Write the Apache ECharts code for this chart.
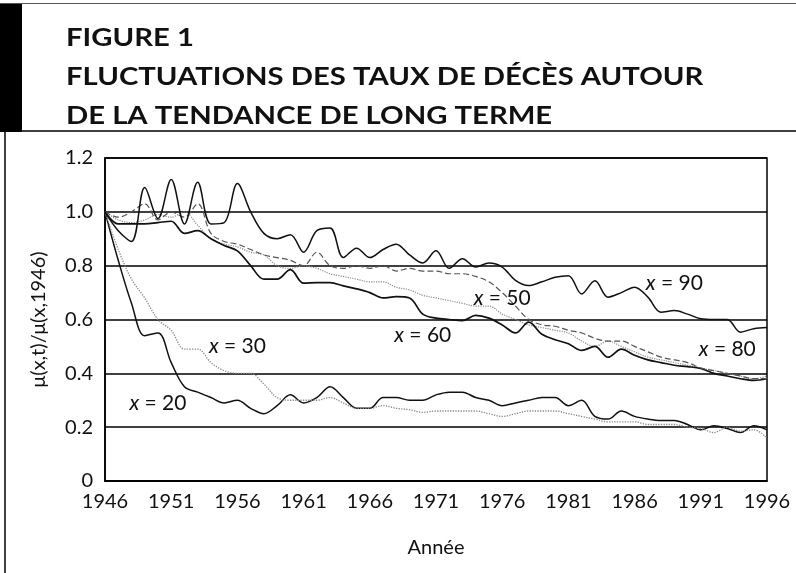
<!DOCTYPE html>
<html>
<head>
<meta charset="utf-8">
<title>Figure 1 - fluctuations des taux de décès</title>
<script src="https://cdn.jsdelivr.net/npm/echarts@6/dist/echarts.min.js"></script>
<style>
  * { margin: 0; padding: 0; }
  body { background: #fff; }
  #main { width: 796px; height: 573px; }
</style>
</head>
<body>
<div id="main"></div>
<script>
// années (axe des x)
var years = ['1946','1947','1948','1949','1950','1951','1952','1953','1954','1955',
  '1956','1957','1958','1959','1960','1961','1962','1963','1964','1965',
  '1966','1967','1968','1969','1970','1971','1972','1973','1974','1975',
  '1976','1977','1978','1979','1980','1981','1982','1983','1984','1985',
  '1986','1987','1988','1989','1990','1991','1992','1993','1994','1995','1996'];

// mu(x,t)/mu(x,1946)
var age20 = [1.00,0.82,0.66,0.54,0.55,0.44,0.35,0.33,0.31,0.29,
  0.30,0.27,0.25,0.28,0.32,0.29,0.31,0.35,0.31,0.27,
  0.27,0.31,0.31,0.30,0.30,0.32,0.33,0.33,0.31,0.30,
  0.28,0.29,0.30,0.31,0.31,0.28,0.30,0.24,0.23,0.26,
  0.24,0.23,0.225,0.225,0.21,0.19,0.205,0.195,0.18,0.205,0.19];
var age30 = [1.00,0.86,0.75,0.68,0.60,0.56,0.49,0.49,0.44,0.41,
  0.40,0.40,0.36,0.31,0.30,0.30,0.30,0.31,0.29,0.27,
  0.27,0.28,0.27,0.265,0.255,0.26,0.26,0.26,0.26,0.25,
  0.24,0.25,0.26,0.26,0.26,0.25,0.24,0.23,0.22,0.22,
  0.22,0.21,0.21,0.21,0.20,0.195,0.18,0.20,0.185,0.19,0.16];
var age50 = [1.00,0.97,0.96,0.97,0.99,0.98,1.00,0.95,0.90,0.88,
  0.87,0.85,0.84,0.80,0.79,0.80,0.79,0.77,0.76,0.75,
  0.74,0.74,0.72,0.71,0.69,0.68,0.67,0.66,0.65,0.65,
  0.62,0.60,0.58,0.57,0.56,0.55,0.52,0.50,0.52,0.50,
  0.48,0.46,0.45,0.44,0.43,0.42,0.41,0.40,0.39,0.38,0.39];
var age60 = [1.00,0.955,0.955,0.955,0.96,0.965,0.92,0.93,0.90,0.875,
  0.855,0.80,0.75,0.75,0.785,0.735,0.737,0.737,0.725,0.714,
  0.70,0.68,0.685,0.68,0.62,0.605,0.60,0.596,0.615,0.605,
  0.58,0.55,0.59,0.545,0.525,0.51,0.485,0.50,0.46,0.49,
  0.467,0.45,0.44,0.43,0.425,0.418,0.40,0.39,0.38,0.374,0.38];
var age80 = [1.00,0.98,1.00,1.03,0.97,1.00,0.98,1.03,0.92,0.89,
  0.88,0.86,0.84,0.83,0.82,0.80,0.85,0.80,0.79,0.80,
  0.79,0.80,0.78,0.79,0.78,0.78,0.77,0.77,0.76,0.74,
  0.70,0.65,0.60,0.58,0.575,0.56,0.55,0.53,0.52,0.52,
  0.50,0.48,0.46,0.45,0.44,0.42,0.41,0.40,0.39,0.38,0.38];
var age90 = [1.00,0.93,0.89,1.09,0.975,1.12,0.955,1.11,0.955,0.96,
  1.105,1.00,0.92,0.90,0.915,0.85,0.93,0.94,0.83,0.865,
  0.83,0.86,0.88,0.84,0.81,0.855,0.79,0.826,0.795,0.81,
  0.795,0.745,0.726,0.74,0.757,0.763,0.695,0.744,0.683,0.70,
  0.72,0.683,0.627,0.633,0.62,0.603,0.60,0.60,0.553,0.566,0.57];

// étiquettes des courbes : [indice d'année, valeur]
var labelNames = ['90', '50', '80', '60', '30', '20'];
var labelSpots = [[42.9, 0.733], [29.9, 0.68], [46.9, 0.49], [23.7, 0.54], [10.4, 0.50], [3.5, 0.29]];

var chart = echarts.init(document.getElementById('main'));
var txt = '#111';
var fontFam = 'Lato';

function line(name, data, color, width, type) {
  return {
    name: name, type: 'line', data: data, symbol: 'none', smooth: 0.35,
    lineStyle: { color: color, width: width, type: type },
    z: 3
  };
}

// le titre, un peu élargi pour rappeler le Gill Sans
function titleLine(str, y) {
  return {
    type: 'text', x: 66, y: y, scaleX: 1.17,
    style: { text: str, fill: '#111', font: 'bold 25px Lato', verticalAlign: 'top' }
  };
}

var option = {
  backgroundColor: '#fff',
  animation: false,
  textStyle: { fontFamily: fontFam },
  grid: {
    left: 105, right: 29, top: 158, bottom: 92,
    show: true, borderColor: '#000', borderWidth: 1.5
  },
  xAxis: {
    type: 'category', data: years, boundaryGap: false,
    name: 'Année', nameLocation: 'middle', nameGap: 57,
    nameTextStyle: { color: txt, fontSize: 20, fontFamily: fontFam },
    axisLine: { lineStyle: { color: '#000', width: 1.6 } },
    axisTick: { show: false },
    axisLabel: { interval: 4, color: txt, fontSize: 20, margin: 11, fontFamily: fontFam },
    splitLine: { show: false }
  },
  yAxis: {
    type: 'value', min: 0, max: 1.2, interval: 0.2,
    name: 'μ(x,t)/μ(x,1946)', nameLocation: 'middle', nameGap: 56,
    nameTextStyle: { color: txt, fontSize: 20, fontFamily: fontFam },
    axisLine: { show: true, lineStyle: { color: '#000', width: 1.6 } },
    axisTick: { show: false },
    axisLabel: {
      color: txt, fontSize: 20, margin: 12, fontFamily: fontFam,
      formatter: function (v) { return v === 0 ? '0' : v.toFixed(1); }
    },
    splitLine: { lineStyle: { color: '#000', width: 1.7 } }
  },
  series: [
    line('x = 20', age20, '#111', 1.5, 'solid'),
    line('x = 30', age30, '#888', 1.3, 'dotted'),
    line('x = 50', age50, '#8a8a8a', 1.2, 'dotted'),
    line('x = 60', age60, '#111', 1.7, 'solid'),
    line('x = 80', age80, '#555', 1.2, [6, 3]),
    line('x = 90', age90, '#111', 1.5, 'solid')
  ],
  graphic: [
    // bandeau du titre
    { type: 'rect', shape: { x: 0, y: 3, width: 22, height: 129 }, style: { fill: '#000' } },
    { type: 'line', shape: { x1: 0, y1: 3.5, x2: 796, y2: 3.5 }, style: { stroke: '#555', lineWidth: 1 } },
    { type: 'line', shape: { x1: 0, y1: 131, x2: 796, y2: 131 }, style: { stroke: '#000', lineWidth: 1.5 } },
    { type: 'line', shape: { x1: 5, y1: 131, x2: 5, y2: 573 }, style: { stroke: '#000', lineWidth: 1.5 } },
    titleLine('FIGURE 1', 25),
    titleLine('FLUCTUATIONS DES TAUX DE DÉCÈS AUTOUR', 64),
    titleLine('DE LA TENDANCE DE LONG TERME', 103)
  ]
};
chart.setOption(option);

// étiquettes x = .. placées via l'échelle du graphique
var extra = labelNames.map(function (n, i) {
  var p = chart.convertToPixel('grid', labelSpots[i]);
  return {
    type: 'text', x: p[0], y: p[1], z: 10,
    style: {
      text: '{i|x} = ' + n, align: 'center', verticalAlign: 'middle',
      fill: '#111', fontSize: 21, fontFamily: fontFam,
      rich: { i: { fontStyle: 'italic', fontSize: 21, fontFamily: fontFam, fill: '#111' } }
    }
  };
});
chart.setOption({ graphic: option.graphic.concat(extra) });
</script>
</body>
</html>
